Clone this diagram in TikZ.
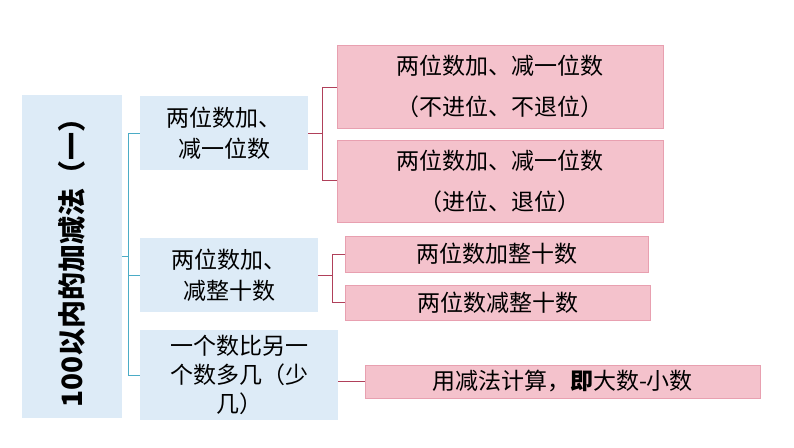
\documentclass[tikz,border=0pt]{standalone}
\usepackage{fontspec}
\setmainfont{Noto Sans CJK SC}
\definecolor{boxblue}{HTML}{DDEBF7}
\definecolor{boxpink}{HTML}{F4C2CC}
\definecolor{pinkline}{HTML}{E8A0B0}
\definecolor{tealline}{HTML}{4BACC6}
\definecolor{redline}{HTML}{B0405A}
\begin{document}
\begin{tikzpicture}[x=1pt, y=-1pt,
  bluebox/.style={fill=boxblue, inner sep=0pt, align=center, font=\fontsize{23}{31}\selectfont},
  pinkbox/.style={fill=boxpink, draw=pinkline, inner sep=0pt, align=center, font=\fontsize{23}{41}\selectfont},
  tline/.style={tealline, line width=0.8pt},
  rline/.style={redline, line width=0.8pt}]

\useasboundingbox (0,0) rectangle (794,447);

\node[bluebox, minimum width=100, minimum height=323] (root) at (72,256)
  {\rotatebox{90}{\fontsize{28}{32}\selectfont\bfseries 100以内的加减法（一）}};

\node[bluebox, minimum width=168, minimum height=74] (sub1) at (224,133) {两位数加、\\减一位数};
\node[bluebox, minimum width=178, minimum height=74] (sub2) at (229,275) {两位数加、\\减整十数};
\node[bluebox, minimum width=198, minimum height=90, font=\fontsize{23}{29}\selectfont] (sub3) at (239,375) {一个数比另一\\个数多几（少\\几）};

\node[pinkbox, minimum width=326, minimum height=83] (leaf1) at (500,86.5) {两位数加、减一位数\\（不进位、不退位）};
\node[pinkbox, minimum width=326, minimum height=82] (leaf2) at (500,181) {两位数加、减一位数\\（进位、退位）};
\node[pinkbox, minimum width=303, minimum height=36] (leaf3) at (496.5,254) {两位数加整十数};
\node[pinkbox, minimum width=305, minimum height=35] (leaf4) at (497.5,302.5) {两位数减整十数};
\node[pinkbox, minimum width=395, minimum height=33] (leaf5) at (562.5,381.5) {用减法计算，\textbf{即}大数-小数};

% trunk from the root
\coordinate (trunk) at (128,0);
\draw[tline] (root.east) -- (trunk |- root.east);
\draw[tline] (sub1.west) -| (trunk |- sub3.west) -- (sub3.west);
\draw[tline] (trunk |- sub2.west) -- (sub2.west);

% branches to the leaves
\coordinate (fork1) at (322,0);
\draw[rline] (sub1.east) -- (fork1 |- sub1.east);
\draw[rline] (leaf1.west |- 0,87) -| (fork1 |- 0,180) -- (leaf2.west |- 0,180);
\coordinate (fork2) at (332,0);
\draw[rline] (sub2.east) -- (fork2 |- sub2.east);
\draw[rline] (leaf3.west) -| (fork2 |- leaf4.west) -- (leaf4.west);
\draw[rline] (sub3.east |- leaf5.west) -- (leaf5.west);

\end{tikzpicture}
\end{document}
